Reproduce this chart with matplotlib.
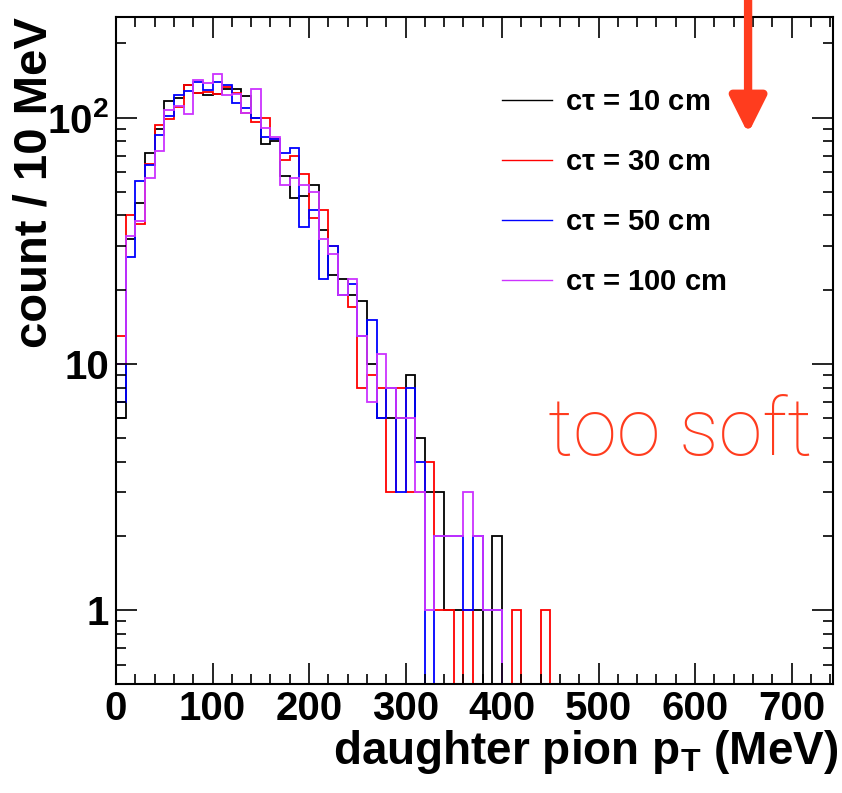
import numpy as np
import matplotlib.pyplot as plt
from matplotlib import font_manager
from matplotlib.lines import Line2D
from matplotlib.ticker import MultipleLocator, LogLocator, NullFormatter, FixedLocator, FixedFormatter

fonts = font_manager.fontManager.ttflist
installed = {f.name for f in fonts}
main_font = 'Liberation Sans Narrow' if 'Liberation Sans Narrow' in installed else 'Liberation Sans'

# a light face for the hand-written style note, if one is around
light_font, light_weight = 'Liberation Sans', 'normal'
for name in ['Roboto', 'Lato', 'Open Sans', 'Noto Sans']:
    if any(f.name == name and f.weight in (300, 'light') for f in fonts):
        light_font, light_weight = name, 'light'
        break

plt.rcParams['font.family'] = [main_font, 'Liberation Sans', 'DejaVu Sans']
plt.rcParams['font.weight'] = 'bold'
plt.rcParams['mathtext.fontset'] = 'custom'
plt.rcParams['mathtext.bf'] = main_font + ':bold'
plt.rcParams['mathtext.rm'] = main_font + ':bold'

# 10 MeV bins, 0 - 750 MeV
edges = np.arange(0, 760, 10)

ct10 = [6, 32, 45, 72, 90, 117, 120, 135, 126, 124,
        125, 131, 131, 122, 100, 78, 80, 58, 47, 48,
        53, 35, 23, 22, 19, 18, 10, 6, 6, 6,
        9, 5, 3, 3, 1, 1, 1, 1, 0, 2,
        0, 0, 0, 0, 0, 0, 0, 0, 0, 0,
        0, 0, 0, 0, 0, 0, 0, 0, 0, 0,
        0, 0, 0, 0, 0, 0, 0, 0, 0, 0,
        0, 0, 0, 0, 0]
ct30 = [13, 40, 37, 65, 93, 99, 110, 135, 126, 127,
        125, 133, 126, 104, 96, 100, 82, 67, 70, 59,
        39, 42, 30, 19, 17, 8, 9, 8, 3, 8,
        3, 3, 4, 1, 1, 0, 1, 0, 0, 0,
        0, 1, 0, 0, 1, 0, 0, 0, 0, 0,
        0, 0, 0, 0, 0, 0, 0, 0, 0, 0,
        0, 0, 0, 0, 0, 0, 0, 0, 0, 0,
        0, 0, 0, 0, 0]
ct50 = [7, 27, 55, 64, 85, 101, 124, 128, 139, 129,
        139, 135, 115, 109, 100, 83, 82, 72, 75, 36,
        42, 22, 30, 19, 21, 13, 15, 6, 8, 3,
        8, 4, 0, 2, 2, 2, 1, 2, 1, 1,
        0, 0, 0, 0, 0, 0, 0, 0, 0, 0,
        0, 0, 0, 0, 0, 0, 0, 0, 0, 0,
        0, 0, 0, 0, 0, 0, 0, 0, 0, 0,
        0, 0, 0, 0, 0]
ct100 = [10, 33, 38, 57, 73, 107, 111, 103, 142, 138,
         150, 124, 125, 104, 131, 91, 83, 53, 57, 53,
         50, 32, 28, 19, 22, 13, 7, 11, 8, 6,
         6, 3, 1, 2, 2, 2, 3, 2, 1, 1,
         0, 0, 0, 0, 0, 0, 0, 0, 0, 0,
         0, 0, 0, 0, 0, 0, 0, 0, 0, 0,
         0, 0, 0, 0, 0, 0, 0, 0, 0, 0,
         0, 0, 0, 0, 0]

labels = [r'c$\mathbf{\tau}$ = 10 cm', r'c$\mathbf{\tau}$ = 30 cm',
          r'c$\mathbf{\tau}$ = 50 cm', r'c$\mathbf{\tau}$ = 100 cm']
colors = ['black', '#ff0000', '#0000ff', '#cc33ff']

y_lo, y_hi = 0.5, 256
x_lo, x_hi = 0, 743

fig = plt.figure(figsize=(8.42, 7.93), dpi=100)
ax = fig.add_axes([116 / 842, 1 - 684 / 793, (833 - 116) / 842, (684 - 17) / 793])

for counts, color in zip([ct10, ct30, ct50, ct100], colors):
    # empty bins sit on the bottom of the frame, ROOT style
    shown = np.clip(np.array(counts, dtype=float), y_lo, None)
    ax.stairs(shown, edges, baseline=y_lo, color=color, lw=1.3)

ax.set_yscale('log')
ax.set_xlim(x_lo, x_hi)
ax.set_ylim(y_lo, y_hi)

ax.xaxis.set_major_locator(MultipleLocator(100))
ax.xaxis.set_minor_locator(MultipleLocator(20))
ax.yaxis.set_major_locator(FixedLocator([1, 10, 100]))
ax.yaxis.set_major_formatter(FixedFormatter(['1', '10', r'$\mathbf{10^{2}}$']))
ax.yaxis.set_minor_locator(LogLocator(base=10, subs=np.arange(2, 10)))
ax.yaxis.set_minor_formatter(NullFormatter())

ax.tick_params(which='both', direction='in', top=True, right=True, width=1.2, labelsize=29)
ax.tick_params(which='major', length=15)
ax.tick_params(which='minor', length=7.5)
ax.tick_params(axis='x', pad=4)
ax.tick_params(axis='y', pad=5)
for s in ax.spines.values():
    s.set_linewidth(1.5)

handles = [Line2D([], [], color=c, lw=1) for c in colors]
ax.legend(handles, labels, loc='upper left', bbox_to_anchor=(502 / 842, 1 - 88 / 793),
          bbox_transform=fig.transFigure, frameon=False, fontsize=21,
          handlelength=1.7, handletextpad=0.45, labelspacing=1.1,
          borderpad=0, borderaxespad=0)

fig.text(35 / 842, 1 - 17 / 793, 'count / 10 MeV', rotation=90, ha='center', va='top',
         fontsize=34, fontweight='bold')
fig.text(838 / 842, 1 - 728 / 793, r'daughter pion p$_{\mathbf{T}}$ (MeV)', ha='right', va='top',
         fontsize=33, fontweight='bold')

red = '#ff3c1e'
fig.text(548 / 842, 1 - 455 / 793, 'too soft', color=red, fontsize=57,
         family=light_font, fontweight=light_weight, va='baseline')
ax.annotate('', xy=(655, 86), xycoords='data', xytext=(655, 1.0),
            textcoords=('data', 'figure fraction'), annotation_clip=False,
            arrowprops=dict(arrowstyle='-|>,head_length=1.1,head_width=0.55',
                            color=red, lw=6, mutation_scale=20, shrinkA=0, shrinkB=0))

fig.savefig('out.png', dpi=100)
